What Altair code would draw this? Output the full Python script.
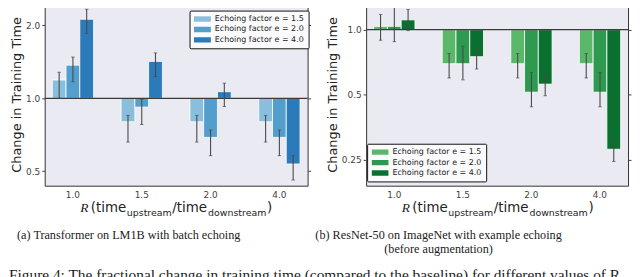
import altair as alt
import pandas as pd

R = ["1.0", "1.5", "2.0", "4.0"]
SERIES = ["Echoing factor e = 1.5", "Echoing factor e = 2.0", "Echoing factor e = 4.0"]

# (a) Transformer on LM1B
A_VAL = [[1.19, 0.80, 0.80, 0.80],
         [1.37, 0.92, 0.69, 0.69],
         [2.12, 1.42, 1.065, 0.536]]
A_LO = [[1.00, 0.66, 0.66, 0.66],
        [1.17, 0.78, 0.58, 0.58],
        [1.85, 1.23, 0.925, 0.46]]
A_HI = [[1.28, 0.85, 0.85, 0.85],
        [1.48, 0.99, 0.74, 0.74],
        [2.33, 1.54, 1.155, 0.58]]

# (b) ResNet-50 on ImageNet
B_VAL = [[1.036, 0.696, 0.696, 0.696],
         [1.036, 0.696, 0.514, 0.514],
         [1.11, 0.75, 0.56, 0.28]]
B_LO = [[0.894, 0.598, 0.598, 0.598],
        [0.88, 0.586, 0.44, 0.44],
        [0.99, 0.658, 0.495, 0.246]]
B_HI = [[1.176, 0.776, 0.776, 0.776],
        [1.27, 0.839, 0.633, 0.633],
        [1.24, 0.824, 0.618, 0.308]]

BLUES = ["#89bedc", "#539ecd", "#2b7bba"]
GREENS = ["#5bb86b", "#2e9a4f", "#0a7030"]

A_TICKS = [0.5, 1.0, 2.0]
B_TICKS = [0.25, 0.5, 1.0]
A_DOMAIN = [0.436, 2.47]
B_DOMAIN = [0.19, 1.326]

CAP_A = ["(a) Transformer on LM1B with batch echoing"]
CAP_B = ["(b) ResNet-50 on ImageNet with example echoing", "(before augmentation)"]
FIG_LINE = "Figure 4: The fractional change in training time (compared to the baseline) for different values of R"

SANS = "DejaVu Sans"
SERIF = "Liberation Serif"


def frame(vals, lo, hi):
    rows = []
    for si, s in enumerate(SERIES):
        for ri, r in enumerate(R):
            rows.append({"R": r, "series": s, "value": vals[si][ri],
                         "lo": lo[si][ri], "hi": hi[si][ri], "base": 1.0})
    return pd.DataFrame(rows)


def one():
    return pd.DataFrame({"k": [0]})


def txt(x, y, text, font=SANS, size=13.5, style="normal", align="left", baseline="alphabetic", limit=0):
    kw = dict(font=font, fontSize=size, fontStyle=style, align=align,
              baseline=baseline, color="#222222")
    if limit:
        kw["limit"] = limit
        kw["ellipsis"] = " "
    return alt.Chart(one()).mark_text(**kw).encode(
        x=alt.value(x), y=alt.value(y), text=alt.value(text))


def xtitle():
    yb = 211
    ys = 214.5
    return [
        txt(35.8, yb, "R", font=SERIF, size=13.5, style="italic"),
        txt(46.5, yb, "(time"),
        txt(82.8, ys, "upstream", size=9.5),
        txt(128.6, yb, "/time"),
        txt(164.6, ys, "downstream", size=9.5),
        txt(224.2, yb, ")"),
    ]


def panel(vals, lo, hi, colors, ticks, domain, width, lx, ly, captions, cap_x, extra):
    df = frame(vals, lo, hi)
    base = alt.Chart(df)
    xenc = alt.X("R:N", sort=R, scale=alt.Scale(paddingInner=0.4, paddingOuter=0.11),
                 axis=alt.Axis(title=None, ticks=False, domain=False, labelAngle=0,
                               labelPadding=5, labelFont=SANS, labelFontSize=9,
                               labelColor="#444444", grid=False))
    xoff = alt.XOffset("series:N", sort=SERIES, scale=alt.Scale(paddingInner=0, paddingOuter=0))
    yscale = alt.Scale(type="log", domain=domain, nice=False, zero=False)
    label_expr = "datum.value < 0.3 ? '0.25' : format(datum.value, '.1f')"
    bars = base.mark_bar(stroke="white", strokeWidth=0.8).encode(
        x=xenc, xOffset=xoff,
        y=alt.Y("value:Q", scale=yscale,
                axis=alt.Axis(values=ticks, labelExpr=label_expr, title="Change in Training Time",
                              titleFont=SANS, titleFontSize=13, titleFontWeight="normal",
                              titleColor="#222222", titlePadding=2,
                              labelFont=SANS, labelFontSize=9, labelColor="#444444",
                              tickSize=3, tickColor="#444444", domain=False, grid=False,
                              labelPadding=2)),
        y2=alt.Y2("base:Q"),
        color=alt.Color("series:N", sort=SERIES, scale=alt.Scale(domain=SERIES, range=colors),
                        legend=alt.Legend(orient="none", legendX=lx, legendY=ly, title=None,
                                          labelFont=SANS, labelFontSize=8, labelColor="#222222",
                                          symbolType="M-1,-0.32H1V0.32H-1Z", symbolSize=289,
                                          symbolStrokeWidth=0, clipHeight=8, rowPadding=2.5,
                                          padding=4.5, strokeColor="#111111", fillColor="#fbfbfd",
                                          cornerRadius=1, labelOffset=4, symbolOpacity=1)),
    )
    err = base.mark_rule(color="#4a4a4a", strokeWidth=1.1).encode(
        x=alt.X("R:N", sort=R), xOffset=xoff,
        y=alt.Y("lo:Q", scale=yscale,
                axis=alt.Axis(orient="right", values=ticks, labels=False, title=None,
                              tickSize=3, tickColor="#444444", domain=False, grid=False)),
        y2="hi:Q")
    cap_lo = base.mark_tick(color="#4a4a4a", thickness=1, size=3.5).encode(
        x=alt.X("R:N", sort=R), xOffset=xoff, y=alt.Y("lo:Q", scale=yscale, axis=None))
    cap_hi = base.mark_tick(color="#4a4a4a", thickness=1, size=3.5).encode(
        x=alt.X("R:N", sort=R), xOffset=xoff, y=alt.Y("hi:Q", scale=yscale, axis=None))
    baseline = alt.Chart(one()).mark_rule(color="#3a3a3a", strokeWidth=1.2).encode(
        y=alt.datum(1.0, scale=yscale, axis=None))
    layers = [bars, baseline, err, cap_lo, cap_hi] + xtitle()
    for i, c in enumerate(captions):
        layers.append(txt(cap_x, 234 + 14 * i, c, font=SERIF, size=12.3, align="center",
                          baseline="middle"))
    layers += extra
    return alt.layer(*layers).resolve_axis(y="independent").properties(width=width, height=184)


left = panel(A_VAL, A_LO, A_HI, BLUES, A_TICKS, A_DOMAIN, 265, 146, 7.5, CAP_A, 84.7,
             [txt(-36, 279.5, FIG_LINE, font=SERIF, size=15.5, limit=632)])
right = panel(B_VAL, B_LO, B_HI, GREENS, B_TICKS, B_DOMAIN, 264, 1, 141.7, CAP_B, 73, [])

chart = alt.hconcat(left, right, spacing=59, bounds="flush").resolve_scale(
    color="independent", y="independent", x="independent"
).properties(
    padding={"left": 0, "top": -7, "right": 0, "bottom": 0}
).configure_view(
    fill="#EAEAF2", stroke="#333333", strokeWidth=1
)

chart.save("out.html", embed_options={"renderer": "svg", "actions": False})
